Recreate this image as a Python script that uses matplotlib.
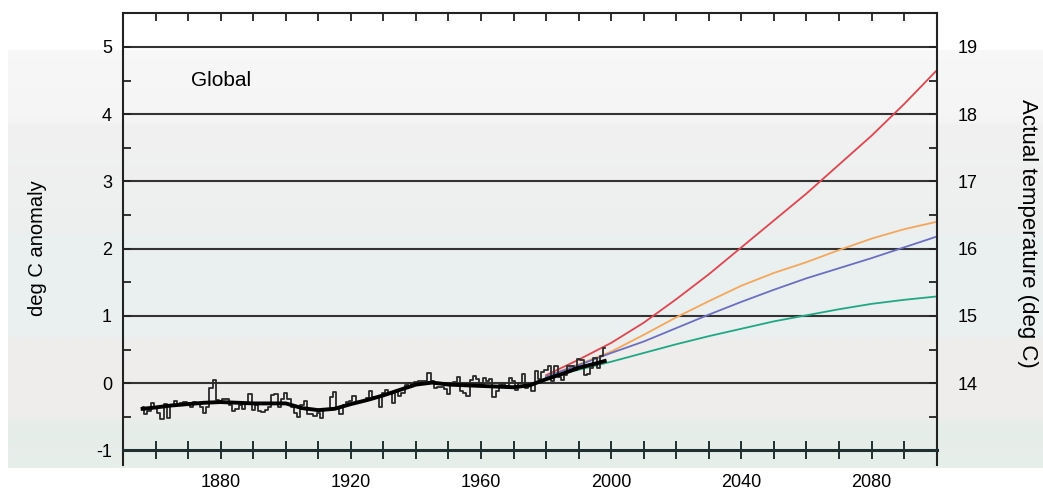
import matplotlib
matplotlib.use('Agg')
import matplotlib.pyplot as plt
import numpy as np
from matplotlib.ticker import FixedLocator, NullFormatter

plt.rcParams['font.family'] = ['Liberation Sans', 'DejaVu Sans']

# observed annual global anomaly (deg C), 1856-1998
obs_years = np.arange(1856, 1999)
obs_anom = [-0.36, -0.46, -0.41, -0.29, -0.36, -0.44, -0.53, -0.31, -0.51, -0.32,
            -0.27, -0.33, -0.30, -0.28, -0.30, -0.36, -0.28, -0.30, -0.36, -0.44,
            -0.36, -0.07, 0.05, -0.25, -0.26, -0.23, -0.24, -0.32, -0.41, -0.39,
            -0.33, -0.39, -0.29, -0.16, -0.40, -0.33, -0.41, -0.43, -0.40, -0.35,
            -0.17, -0.16, -0.35, -0.23, -0.15, -0.24, -0.36, -0.45, -0.50, -0.33,
            -0.27, -0.46, -0.46, -0.49, -0.44, -0.52, -0.40, -0.40, -0.21, -0.13,
            -0.36, -0.46, -0.33, -0.28, -0.27, -0.19, -0.28, -0.26, -0.27, -0.22,
            -0.11, -0.21, -0.21, -0.35, -0.15, -0.10, -0.16, -0.29, -0.13, -0.19,
            -0.15, -0.03, 0.00, -0.02, 0.02, 0.04, 0.03, 0.03, 0.15, 0.03,
            -0.07, -0.05, -0.05, -0.08, -0.16, -0.03, 0.02, 0.09, -0.12, -0.14,
            -0.19, 0.05, 0.11, 0.06, -0.01, 0.08, 0.04, 0.07, -0.21, -0.11,
            -0.03, -0.01, -0.04, 0.08, 0.03, -0.10, 0.00, 0.14, -0.07, -0.02,
            -0.11, 0.18, 0.07, 0.16, 0.19, 0.26, 0.04, 0.25, 0.09, 0.05,
            0.12, 0.26, 0.26, 0.19, 0.36, 0.34, 0.12, 0.14, 0.23, 0.38,
            0.22, 0.40, 0.53]

# smoothed curve
smooth_years = [1856, 1860, 1865, 1870, 1875, 1880, 1885, 1890, 1895, 1900,
                1905, 1910, 1915, 1920, 1925, 1930, 1935, 1940, 1945, 1950,
                1955, 1960, 1965, 1970, 1975, 1980, 1985, 1990, 1995, 1998]
smooth_anom = [-0.38, -0.36, -0.33, -0.31, -0.29, -0.28, -0.29, -0.30, -0.30, -0.30,
               -0.37, -0.40, -0.38, -0.31, -0.25, -0.18, -0.10, -0.02, 0.01, -0.02,
               -0.03, -0.04, -0.05, -0.06, -0.03, 0.06, 0.14, 0.23, 0.29, 0.33]

# model projections
proj_years = [1980, 1990, 2000, 2010, 2020, 2030, 2040, 2050, 2060, 2070, 2080, 2090, 2100]
proj_red = [0.12, 0.35, 0.60, 0.90, 1.25, 1.62, 2.02, 2.42, 2.82, 3.25, 3.68, 4.15, 4.65]
proj_orange = [0.10, 0.28, 0.47, 0.72, 0.98, 1.22, 1.45, 1.64, 1.80, 1.98, 2.15, 2.29, 2.40]
proj_blue = [0.10, 0.27, 0.45, 0.62, 0.82, 1.02, 1.21, 1.39, 1.56, 1.71, 1.86, 2.02, 2.18]
proj_green = [0.08, 0.20, 0.32, 0.45, 0.58, 0.70, 0.81, 0.92, 1.01, 1.10, 1.18, 1.24, 1.29]

x_labels = [1880, 1920, 1960, 2000, 2040, 2080]
decades = list(range(1860, 2100, 10))
left_ticks = [-1, 0, 1, 2, 3, 4, 5]
right_ticks = [14, 15, 16, 17, 18, 19]

fig = plt.figure(figsize=(10.43, 4.91), dpi=100)
fig.patch.set_facecolor('white')

# banded backdrop
H, W = 491, 1043
rows = np.arange(H)
anchors = [50, 120, 125, 230, 235, 335, 340, 415, 425, 467]
cols = np.array([[0.97, 0.97, 0.97], [0.96, 0.96, 0.96], [0.945, 0.945, 0.945],
                 [0.93, 0.935, 0.935], [0.92, 0.94, 0.945], [0.92, 0.94, 0.945],
                 [0.935, 0.93, 0.925], [0.935, 0.93, 0.925], [0.9, 0.93, 0.915],
                 [0.905, 0.935, 0.92]])
img = np.ones((H, W, 3))
band = np.stack([np.interp(rows, anchors, cols[:, k]) for k in range(3)], axis=1)
inside = (rows >= 50) & (rows <= 467)
img[inside, 8:, :] = band[inside][:, None, :]
bg = fig.add_axes([0, 0, 1, 1], zorder=-1)
bg.imshow(img, extent=[0, 1, 0, 1], aspect='auto', interpolation='bilinear')
bg.axis('off')

# axes bottom sits on the -1 line
rect = [0.118, 0.0825, 0.780, 0.8904]
ax = fig.add_axes(rect)
ax.patch.set_alpha(0)
ax.set_xlim(1850, 2100)
ax.set_ylim(-1, 5.5)

ax.axhspan(5, 5.5, color='white', zorder=0)

for v in range(0, 6):
    ax.axhline(v, color='#333333', lw=1.5, zorder=1)

ax.plot(proj_years, proj_red, color='#e0454f', lw=1.3, zorder=2)
ax.plot(proj_years, proj_orange, color='#f4a75a', lw=1.3, zorder=2)
ax.plot(proj_years, proj_blue, color='#6b6fc0', lw=1.3, zorder=2)
ax.plot(proj_years, proj_green, color='#1fa885', lw=1.3, zorder=2)

ax.step(obs_years, obs_anom, where='mid', color='#2a2a2a', lw=1.3, zorder=3)
ax.plot(smooth_years, smooth_anom, color='black', lw=2.8, zorder=4)

ax.text(1871, 4.5, 'Global', fontsize=15, va='center', ha='left')

for s in ['left', 'right', 'top']:
    ax.spines[s].set_color('#222222')
    ax.spines[s].set_linewidth(1.5)
# side frame lines run a little below the -1 line
ax.spines['left'].set_bounds(-1.215, 5.5)
ax.spines['right'].set_bounds(-1.215, 5.5)
ax.spines['bottom'].set_color('#1e3030')
ax.spines['bottom'].set_linewidth(2.2)

# year labels (marks drawn by the overlay below)
ax.xaxis.set_major_locator(FixedLocator(x_labels))
ax.tick_params(axis='x', which='both', bottom=True, top=False, direction='out',
               length=0, pad=17, labelsize=13)

ax.yaxis.set_major_locator(FixedLocator(left_ticks))
ax.yaxis.set_minor_locator(FixedLocator(list(np.arange(-0.5, 5.0, 1.0))))
ax.tick_params(axis='y', which='both', direction='in', length=6, width=1.3,
               color='#222222', pad=8, labelsize=13)
ax.set_yticklabels([str(t) for t in left_ticks])

ax2 = ax.twinx()
ax2.patch.set_visible(False)
ax2.set_ylim(-1 + 14, 5.5 + 14)
for s in ax2.spines.values():
    s.set_visible(False)
ax2.yaxis.set_major_locator(FixedLocator(right_ticks))
ax2.yaxis.set_minor_locator(FixedLocator(list(np.arange(13.5, 19.0, 1.0))))
ax2.tick_params(axis='y', which='both', direction='in', length=6, width=1.3,
                color='#222222', pad=15, labelsize=13)

# overlay for the decade tick marks: crossing at the -1 line, inward at top
tk = fig.add_axes(rect, zorder=5)
tk.patch.set_visible(False)
tk.set_xlim(1850, 2100)
tk.set_ylim(-1, 5.5)
for s in tk.spines.values():
    s.set_visible(False)
tk.yaxis.set_major_locator(FixedLocator([]))
tk.xaxis.set_major_locator(FixedLocator(decades))
tk.xaxis.set_major_formatter(NullFormatter())
tk.tick_params(axis='x', bottom=True, top=False, direction='inout', length=13,
               width=1.4, color='#1e3030')
tk_top = fig.add_axes(rect, zorder=5)
tk_top.patch.set_visible(False)
tk_top.set_xlim(1850, 2100)
for s in tk_top.spines.values():
    s.set_visible(False)
tk_top.yaxis.set_major_locator(FixedLocator([]))
tk_top.xaxis.set_major_locator(FixedLocator(decades))
tk_top.xaxis.set_major_formatter(NullFormatter())
tk_top.tick_params(axis='x', bottom=False, top=True, direction='in', length=6,
                   width=1.3, color='#222222')

fig.text(0.0364, 0.495, 'deg C anomaly', rotation=90, fontsize=14.5,
         ha='center', va='center')
fig.text(0.985, 0.525, 'Actual temperature (deg C)', rotation=270, fontsize=16,
         ha='center', va='center')

fig.savefig('out.png', dpi=100)
